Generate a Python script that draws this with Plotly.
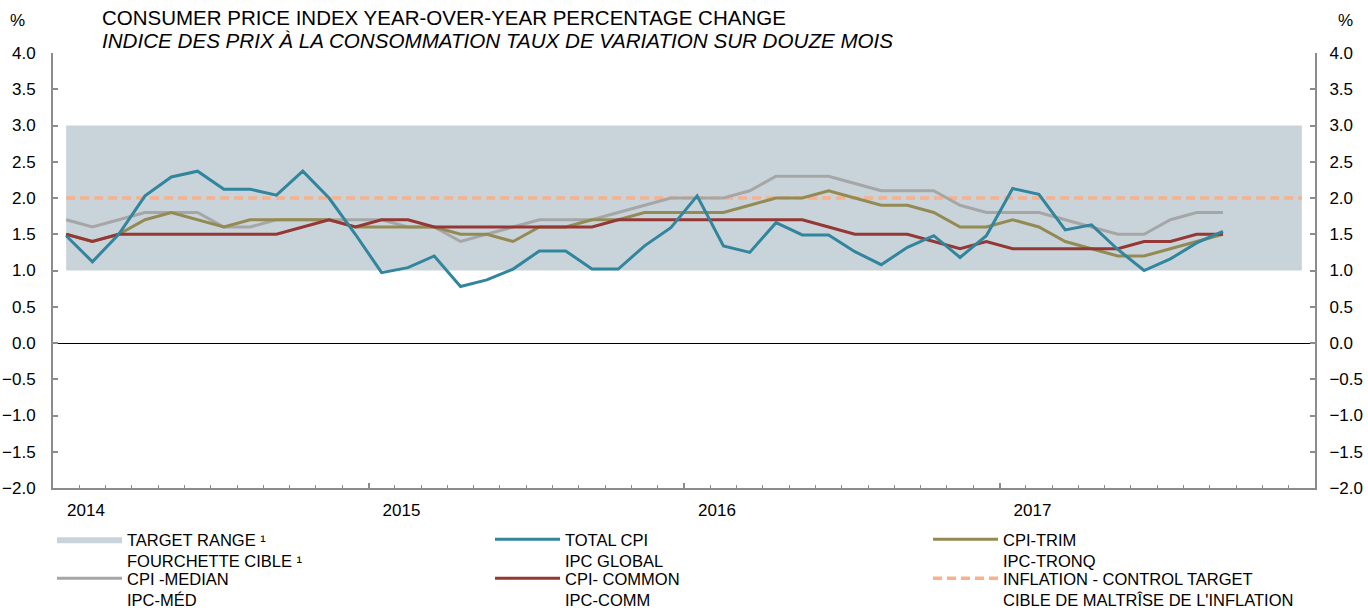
import plotly.graph_objects as go

# Month index 0 = Jan 2014 ... 47 = Dec 2017
n_months = 48
year_labels = ["2014", "2015", "2016", "2017", ""]
year_starts = [0, 12, 24, 36, 48]

total_cpi = [1.48, 1.12, 1.50, 2.03, 2.29, 2.37, 2.12, 2.12, 2.04, 2.37, 2.00, 1.50,
             0.97, 1.04, 1.20, 0.78, 0.87, 1.02, 1.27, 1.27, 1.02, 1.02, 1.34, 1.59,
             2.03, 1.34, 1.25, 1.66, 1.49, 1.49, 1.26, 1.08, 1.32, 1.48, 1.18, 1.48,
             2.13, 2.05, 1.56, 1.63, 1.29, 1.00, 1.16, 1.38, 1.54]
cpi_trim = [1.5, 1.4, 1.5, 1.7, 1.8, 1.7, 1.6, 1.7, 1.7, 1.7, 1.7, 1.6,
            1.6, 1.6, 1.6, 1.5, 1.5, 1.4, 1.6, 1.6, 1.7, 1.7, 1.8, 1.8,
            1.8, 1.8, 1.9, 2.0, 2.0, 2.1, 2.0, 1.9, 1.9, 1.8, 1.6, 1.6,
            1.7, 1.6, 1.4, 1.3, 1.2, 1.2, 1.3, 1.4, 1.5]
cpi_median = [1.7, 1.6, 1.7, 1.8, 1.8, 1.8, 1.6, 1.6, 1.7, 1.7, 1.7, 1.7,
              1.7, 1.6, 1.6, 1.4, 1.5, 1.6, 1.7, 1.7, 1.7, 1.8, 1.9, 2.0,
              2.0, 2.0, 2.1, 2.3, 2.3, 2.3, 2.2, 2.1, 2.1, 2.1, 1.9, 1.8,
              1.8, 1.8, 1.7, 1.6, 1.5, 1.5, 1.7, 1.8, 1.8]
cpi_common = [1.5, 1.4, 1.5, 1.5, 1.5, 1.5, 1.5, 1.5, 1.5, 1.6, 1.7, 1.6,
              1.7, 1.7, 1.6, 1.6, 1.6, 1.6, 1.6, 1.6, 1.6, 1.7, 1.7, 1.7,
              1.7, 1.7, 1.7, 1.7, 1.7, 1.6, 1.5, 1.5, 1.5, 1.4, 1.3, 1.4,
              1.3, 1.3, 1.3, 1.3, 1.3, 1.4, 1.4, 1.5, 1.5]
target_low = [1.0] * n_months
target_high = [3.0] * n_months
inflation_target = [2.0] * n_months

x_all = [i + 0.5 for i in range(n_months)]
x_data = x_all[:len(total_cpi)]

FONT = "Liberation Sans, Arial, sans-serif"
C_RANGE = "#C9D4DA"
C_TOTAL = "#31859C"
C_TRIM = "#948A54"
C_MED = "#A6A6A6"
C_COMMON = "#953735"
C_TARGET = "#F9B08B"
AXIS_C = "#8C8C8C"

# figure geometry (px); page body margin is removed in post_script
W, H = 1368, 610
L, R, T, B = 53, 53, 53, 122
PW, PH = W - L - R, H - T - B


def px_x(sx):
    return (sx - L) / PW


def px_y(sy):
    return (H - B - sy) / PH


fig = go.Figure()

fig.add_trace(go.Scatter(x=x_all, y=target_low, mode="lines", line=dict(width=0, color=C_RANGE),
                         showlegend=False, hoverinfo="skip"))
fig.add_trace(go.Scatter(x=x_all, y=target_high, mode="lines", line=dict(width=0, color=C_RANGE),
                         fill="tonexty", fillcolor=C_RANGE, legend="legend",
                         name="TARGET RANGE ¹<br>FOURCHETTE CIBLE ¹"))
fig.add_trace(go.Scatter(x=x_all, y=inflation_target, mode="lines",
                         line=dict(color=C_TARGET, width=3.5, dash="9px,5px"), legend="legend6",
                         name="INFLATION - CONTROL TARGET<br>CIBLE DE MALTRÎSE DE L'INFLATION"))
fig.add_trace(go.Scatter(x=x_data, y=cpi_median, mode="lines", line=dict(color=C_MED, width=3),
                         legend="legend4", name="CPI -MEDIAN<br>IPC-MÉD"))
fig.add_trace(go.Scatter(x=x_data, y=cpi_trim, mode="lines", line=dict(color=C_TRIM, width=3),
                         legend="legend3", name="CPI-TRIM<br>IPC-TRONQ"))
fig.add_trace(go.Scatter(x=x_data, y=cpi_common, mode="lines", line=dict(color=C_COMMON, width=3),
                         legend="legend5", name="CPI- COMMON<br>IPC-COMM"))
fig.add_trace(go.Scatter(x=x_data, y=total_cpi, mode="lines", line=dict(color=C_TOTAL, width=3),
                         legend="legend2", name="TOTAL CPI<br>IPC GLOBAL"))

# invisible trace so the right axis is rendered
fig.add_trace(go.Scatter(x=[None], y=[None], yaxis="y2", showlegend=False, hoverinfo="skip"))

yticks = [v / 2 for v in range(-4, 9)]


def make_legend(col, row):
    # legend positions in px (col/row of the 3x2 legend grid)
    x_px = 52 + 438 * col
    y_px = 522 + 39 * row
    return dict(orientation="h", xref="container", yref="container",
                x=x_px / W, y=1 - y_px / H, xanchor="left", yanchor="top",
                itemwidth=65, valign="top", font=dict(family=FONT, size=16.5, color="black"),
                bgcolor="rgba(0,0,0,0)", borderwidth=0)


fig.update_layout(
    width=W, height=H,
    margin=dict(l=L, r=R, t=T, b=B, autoexpand=False),
    paper_bgcolor="white", plot_bgcolor="white",
    font=dict(family=FONT, size=17, color="black"),
    xaxis=dict(range=[0, n_months], tickmode="array", tickvals=year_starts, ticktext=year_labels,
               ticks="inside", ticklen=5, tickwidth=1.5, tickcolor=AXIS_C,
               ticklabelshift=33, ticklabelstandoff=6, automargin=False,
               minor=dict(dtick=1, tick0=0, ticks="inside", ticklen=3, tickwidth=1, tickcolor=AXIS_C),
               showline=True, linecolor=AXIS_C, linewidth=2, showgrid=False, zeroline=False),
    yaxis=dict(range=[-2, 4], tickmode="array", tickvals=yticks, tickformat=".1f",
               ticks="inside", ticklen=5, tickwidth=1.5, tickcolor=AXIS_C, ticklabelstandoff=12,
               showline=True, linecolor=AXIS_C, linewidth=2, showgrid=False, automargin=False,
               zeroline=True, zerolinecolor="black", zerolinewidth=1.2),
    yaxis2=dict(range=[-2, 4], overlaying="y", side="right", tickmode="array", tickvals=yticks,
                tickformat=".1f", ticks="inside", ticklen=5, tickwidth=1.5, tickcolor=AXIS_C,
                ticklabelstandoff=9, showline=True, linecolor=AXIS_C, linewidth=2, automargin=False,
                showgrid=False, zeroline=False, anchor="x"),
    legend=make_legend(0, 0),
    legend2=make_legend(1, 0),
    legend3=make_legend(2, 0),
    legend4=make_legend(0, 1),
    legend5=make_legend(1, 1),
    legend6=make_legend(2, 1),
    annotations=[
        dict(text="CONSUMER PRICE INDEX YEAR-OVER-YEAR PERCENTAGE CHANGE",
             xref="paper", yref="paper", x=px_x(100), y=px_y(17), xanchor="left", yanchor="middle",
             showarrow=False, font=dict(size=20.5)),
        dict(text="<i>INDICE DES PRIX À LA CONSOMMATION TAUX DE VARIATION SUR DOUZE MOIS</i>",
             xref="paper", yref="paper", x=px_x(100), y=px_y(40), xanchor="left", yanchor="middle",
             showarrow=False, font=dict(size=20.6)),
        dict(text="%", xref="paper", yref="paper", x=px_x(17), y=px_y(20), xanchor="center",
             yanchor="middle", showarrow=False, font=dict(size=17)),
        dict(text="%", xref="paper", yref="paper", x=px_x(1345), y=px_y(20), xanchor="center",
             yanchor="middle", showarrow=False, font=dict(size=17)),
    ],
    showlegend=True,
)

fig.write_html("out.html", config={"displayModeBar": False},
               post_script="document.body.style.margin='0';document.body.style.overflow='hidden';")
